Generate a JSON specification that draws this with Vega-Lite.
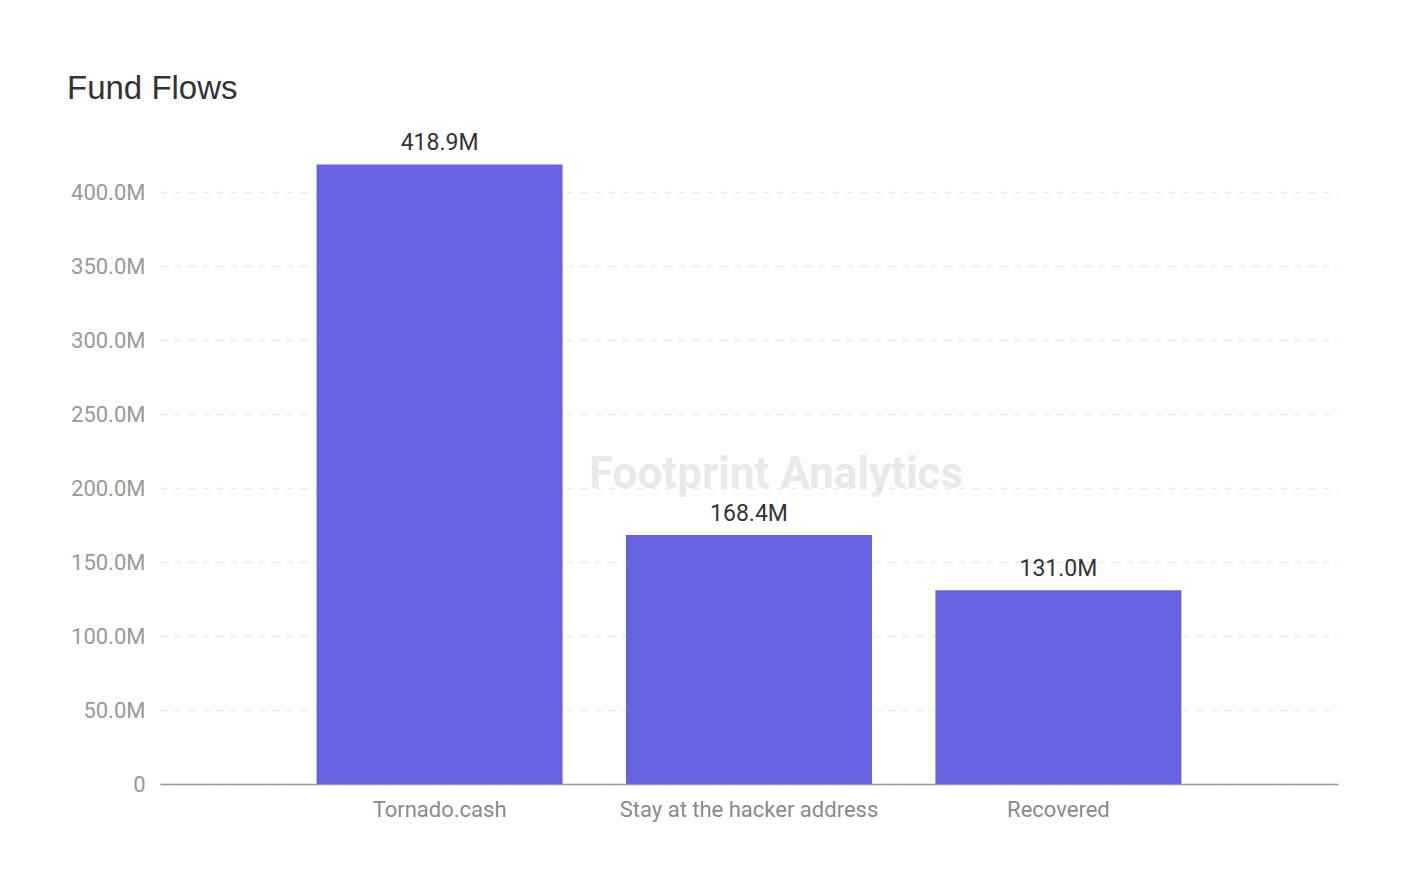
{
  "$schema": "https://vega.github.io/schema/vega-lite/v6.json",
  "autosize": {"type": "none"},
  "padding": {"left": 160, "top": 148, "right": 77, "bottom": 91},
  "width": 1178,
  "height": 636,
  "background": "white",
  "title": {
    "text": "Fund Flows",
    "anchor": "start",
    "frame": "group",
    "dx": -93,
    "dy": -22,
    "font": "Liberation Sans",
    "fontSize": 33,
    "fontWeight": "normal",
    "color": "#333333"
  },
  "config": {"view": {"stroke": null}},
  "data": {
    "values": [
      {"category": "Tornado.cash", "amount": 418900000, "label": "418.9M"},
      {"category": "Stay at the hacker address", "amount": 168400000, "label": "168.4M"},
      {"category": "Recovered", "amount": 131000000, "label": "131.0M"}
    ]
  },
  "encoding": {
    "x": {
      "field": "category",
      "type": "nominal",
      "sort": null,
      "scale": {"paddingInner": 0.205, "paddingOuter": 0.506},
      "axis": {
        "title": null,
        "labelAngle": 0,
        "labelLimit": 0,
        "labelFont": "Roboto",
        "labelFontSize": 22,
        "labelColor": "#8a8a8a",
        "labelPadding": 15,
        "ticks": false,
        "domainColor": "#999999",
        "domainWidth": 1.5
      }
    },
    "y": {
      "field": "amount",
      "type": "quantitative",
      "scale": {"domain": [0, 430000000], "nice": false},
      "axis": {
        "title": null,
        "values": [0, 50000000, 100000000, 150000000, 200000000, 250000000, 300000000, 350000000, 400000000],
        "labelExpr": "datum.value == 0 ? '0' : format(datum.value / 1000000, '.1f') + 'M'",
        "labelFont": "Roboto",
        "labelFontSize": 22,
        "labelColor": "#999999",
        "labelPadding": 15,
        "ticks": false,
        "domain": false,
        "gridColor": "#ebebeb",
        "gridDash": [7, 7],
        "gridWidth": 1.5
      }
    }
  },
  "layer": [
    {"mark": {"type": "bar", "color": "#6563e0"}},
    {
      "mark": {"type": "text", "baseline": "bottom", "dy": -9, "font": "Roboto", "fontSize": 23, "color": "#333333"},
      "encoding": {"text": {"field": "label"}}
    },
    {
      "data": {"values": [{"category": "Stay at the hacker address", "amount": 209000000, "wm": "Footprint Analytics"}]},
      "mark": {"type": "text", "dx": 27, "baseline": "middle", "font": "Roboto", "fontSize": 44, "fontWeight": "bold", "color": "#d0d0d0", "opacity": 0.45},
      "encoding": {"text": {"field": "wm"}}
    }
  ]
}
